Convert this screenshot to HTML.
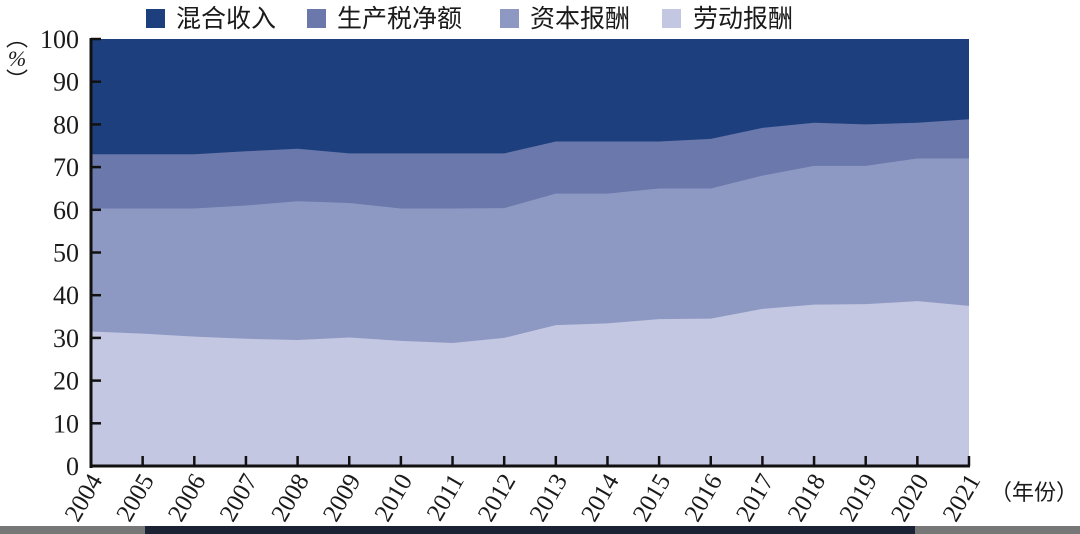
<!DOCTYPE html>
<html><head><meta charset="utf-8"><style>
html,body{margin:0;padding:0;background:#fff;}
svg{display:block;}
text{font-family:"Liberation Serif","Noto Serif CJK SC",serif;fill:#1a1a1a;}
.cjk{font-family:"Liberation Sans","Noto Sans CJK SC",sans-serif;}
</style></head><body>
<svg width="1080" height="534" viewBox="0 0 1080 534" xmlns="http://www.w3.org/2000/svg">
<g id="chart"></g>
<rect x="146" y="9" width="19" height="19" fill="#1e3f7e"/>
<text class="cjk" x="176" y="27" font-size="25">混合收入</text>
<rect x="307" y="9" width="19" height="19" fill="#6a78ab"/>
<text class="cjk" x="337" y="27" font-size="25">生产税净额</text>
<rect x="500" y="9" width="19" height="19" fill="#8e99c3"/>
<text class="cjk" x="530" y="27" font-size="25">资本报酬</text>
<rect x="662" y="9" width="19" height="19" fill="#c3c7e1"/>
<text class="cjk" x="693" y="27" font-size="25">劳动报酬</text>
<text class="cjk" x="17" y="46" font-size="22" text-anchor="middle">︵</text>
<text x="17" y="66" font-size="22" font-style="italic" text-anchor="middle">%</text>
<text class="cjk" x="17" y="88" font-size="22" text-anchor="middle">︶</text>
<rect x="0" y="526" width="1080" height="8" fill="#777"/>
<rect x="145" y="526" width="770" height="8" fill="#1a2233"/>
</svg>
<script>
const L=[31.5,31,30.3,29.8,29.5,30.1,29.3,28.8,30,33,33.4,34.4,34.5,36.8,37.8,37.9,38.6,37.5];
const C=[60.3,60.3,60.3,61,62,61.6,60.3,60.3,60.4,63.8,63.8,65,65,68,70.3,70.3,72,72];
const T=[73,73,73,73.7,74.3,73.2,73.2,73.2,73.2,76,76,76,76.6,79.2,80.4,80,80.4,81.2];
const x0=91,x1=969,y0=466,k=4.27,dx=(x1-x0)/17;
const X=i=>x0+i*dx,Y=v=>y0-v*k;
function area(top,col){let p=top.map((v,i)=>X(i)+','+Y(v));
 for(let i=17;i>=0;i--)p.push(X(i)+','+Y(0));
 return `<polygon points="${p.join(' ')}" fill="${col}"/>`;}
let s=`<rect x="${x0}" y="${Y(100)}" width="${x1-x0}" height="${100*k}" fill="#1e3f7e"/>`;
s+=area(T,'#6a78ab')+area(C,'#8e99c3')+area(L,'#c3c7e1');
s+=`<line x1="${x0}" y1="${Y(100)-1}" x2="${x0}" y2="${y0+2}" stroke="#111" stroke-width="3"/>`;
s+=`<line x1="${x0-1}" y1="${y0}" x2="${x1+1}" y2="${y0}" stroke="#111" stroke-width="3"/>`;
for(let v=0;v<=100;v+=10){const y=Y(v);
 if(v>0)s+=`<line x1="${x0}" y1="${y}" x2="${x0+10}" y2="${y}" stroke="#111" stroke-width="2.5"/>`;
 s+=`<text x="79" y="${y+9}" font-size="26" text-anchor="end">${v}</text>`;}
for(let i=0;i<18;i++){const x=X(i);
 if(i>0)s+=`<line x1="${x}" y1="${y0}" x2="${x}" y2="${y0-10}" stroke="#111" stroke-width="2.5"/>`;
 s+=`<text x="${x+12}" y="${y0+14}" font-size="25" text-anchor="end" transform="rotate(-60 ${x+12} ${y0+14})">${2004+i}</text>`;}
s+=`<text class="cjk" x="990" y="500" font-size="22">（年份）</text>`;
document.getElementById('chart').innerHTML=s;
</script>
</body></html>
